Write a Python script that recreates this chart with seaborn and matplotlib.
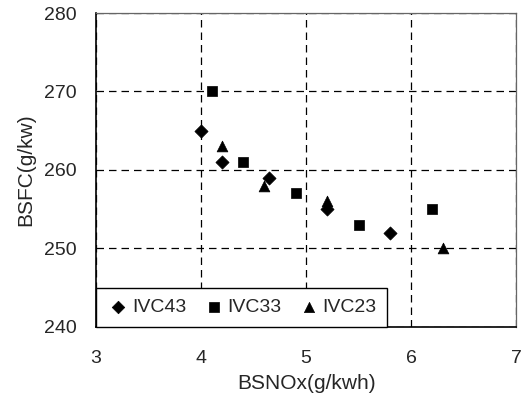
import matplotlib
matplotlib.use("Agg")
import matplotlib.pyplot as plt
import seaborn as sns
import pandas as pd

# Measured BSFC vs BSNOx for three intake valve closing timings
ivc43_nox = [4.0, 4.2, 4.65, 5.2, 5.8]
ivc43_bsfc = [265, 261, 259, 255, 252]
ivc33_nox = [4.1, 4.4, 4.9, 5.5, 6.2]
ivc33_bsfc = [270, 261, 257, 253, 255]
ivc23_nox = [4.2, 4.6, 5.2, 6.3]
ivc23_bsfc = [263, 258, 256, 250]

series_names = ["IVC43", "IVC33", "IVC23"]
x_ticks = [3, 4, 5, 6, 7]
y_ticks = [240, 250, 260, 270, 280]

df = pd.concat([
    pd.DataFrame({"nox": ivc43_nox, "bsfc": ivc43_bsfc, "case": series_names[0]}),
    pd.DataFrame({"nox": ivc33_nox, "bsfc": ivc33_bsfc, "case": series_names[1]}),
    pd.DataFrame({"nox": ivc23_nox, "bsfc": ivc23_bsfc, "case": series_names[2]}),
])

sns.set_style("white")
plt.rcParams["font.family"] = ["Liberation Sans", "DejaVu Sans"]

fig = plt.figure(figsize=(5.31, 4.07), dpi=100)
ax = fig.add_axes([0.181, 0.197, 0.791, 0.771])

marker_map = {"IVC43": "D", "IVC33": "s", "IVC23": "^"}
size_map = {"IVC43": 45, "IVC33": 55, "IVC23": 60}
for name in series_names:
    sub = df[df["case"] == name]
    sns.scatterplot(data=sub, x="nox", y="bsfc", marker=marker_map[name],
                    s=size_map[name], color="black", edgecolor="black",
                    linewidth=0.5, ax=ax, label=name, zorder=3)

ax.set_xlim(3, 7)
ax.set_ylim(240, 280)
ax.set_xticks(x_ticks)
ax.set_yticks(y_ticks)
ax.grid(True, color="black", linestyle=(0, (6, 4)), linewidth=0.9)
ax.tick_params(axis="both", length=0, labelsize=14)
ax.tick_params(axis="x", pad=17)
ax.tick_params(axis="y", pad=14)
for side in ["left", "bottom"]:
    ax.spines[side].set_color("black")
    ax.spines[side].set_linewidth(1.2)
for side in ["top", "right"]:
    ax.spines[side].set_color("#666666")
    ax.spines[side].set_linewidth(0.9)

ax.set_xlabel("BSNOx(g/kwh)", fontsize=15, labelpad=5)
ax.set_ylabel("BSFC(g/kw)", fontsize=15, labelpad=6)

leg = ax.legend(loc="lower left", ncol=3, frameon=True, fontsize=14,
                borderaxespad=0, handletextpad=0.1, columnspacing=0.8,
                handlelength=1.2, borderpad=0.55, fancybox=False,
                markerscale=0.95)
leg.get_frame().set_edgecolor("black")
leg.get_frame().set_linewidth(1.0)
leg.get_frame().set_alpha(1)

fig.savefig("out.png", dpi=100)
